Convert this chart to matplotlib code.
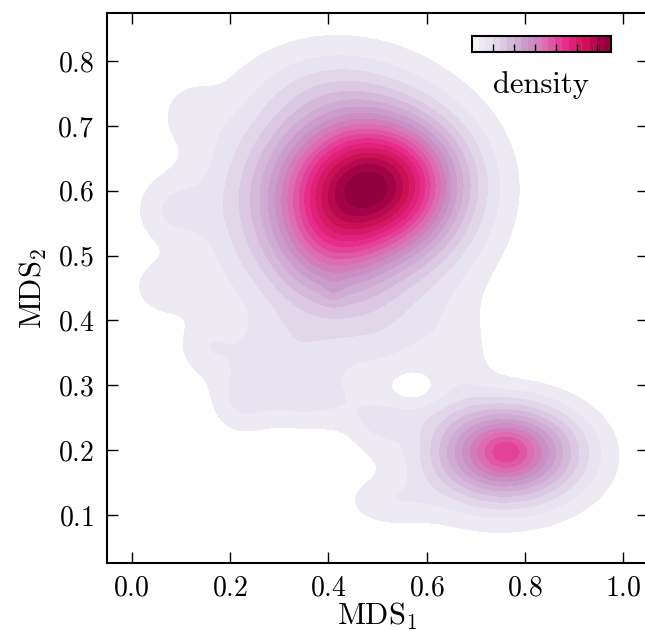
import numpy as np
import matplotlib
matplotlib.use("Agg")
import matplotlib.pyplot as plt
from matplotlib.colors import Normalize

plt.rcParams["font.family"] = "serif"
plt.rcParams["font.serif"] = ["cmr10"]
plt.rcParams["mathtext.fontset"] = "cm"
plt.rcParams["axes.formatter.use_mathtext"] = True

# density blobs: centre, spread, height (in contour steps)
#   big core, lower-left, broad, upper, lobes x4, tail x3, bump,
#   bridges x4, hole, small main, small core, small envelope, small tail
blob_x = [0.505, 0.40, 0.42, 0.40, 0.12, 0.08, 0.07, 0.15, 0.30, 0.22, 0.38, 0.41,
          0.52, 0.66, 0.55, 0.50, 0.578,
          0.762, 0.762, 0.72, 0.52]
blob_y = [0.612, 0.52, 0.58, 0.76, 0.72, 0.57, 0.45, 0.36, 0.33, 0.27, 0.27, 0.445,
          0.37, 0.34, 0.25, 0.23, 0.296,
          0.198, 0.198, 0.15, 0.12]
blob_sx = [0.11, 0.07, 0.16, 0.10, 0.04, 0.05, 0.05, 0.04, 0.09, 0.04, 0.10, 0.015,
           0.07, 0.05, 0.06, 0.04, 0.04,
           0.10, 0.03, 0.17, 0.06]
blob_sy = [0.07, 0.07, 0.12, 0.045, 0.03, 0.035, 0.03, 0.03, 0.05, 0.035, 0.03, 0.015,
           0.05, 0.06, 0.02, 0.03, 0.02,
           0.05, 0.02, 0.07, 0.025]
blob_h = [13, 3, 8, 1.0, 1.2, 1.5, 1.5, 1.2, 2.0, 1.2, 1.3, 0.8,
          1.0, 1.2, 0.8, 1.0, -0.8,
          11, 1.5, 1.0, 1.3]

peak_density = 13.3
n_levels = 20
cbar_ticks = [2, 4, 6, 8, 10, 12]

xlim = (-0.05, 1.05)
ylim = (0.026, 0.874)

xx = np.linspace(xlim[0], xlim[1], 100)
yy = np.linspace(ylim[0], ylim[1], 100)
X, Y = np.meshgrid(xx, yy)
Z = np.zeros_like(X)
for cx, cy, sx, sy, h in zip(blob_x, blob_y, blob_sx, blob_sy, blob_h):
    Z += h * np.exp(-0.5 * (((X - cx) / sx) ** 2 + ((Y - cy) / sy) ** 2))
Z *= peak_density / Z.max()

levels = np.linspace(0, peak_density, n_levels + 1)
mids = 0.5 * (levels[:-1] + levels[1:])
cmap = plt.get_cmap("PuRd")
norm = Normalize(vmin=0.0, vmax=14.5)

fig = plt.figure(figsize=(6.45, 6.31), dpi=100)
ax = fig.add_axes([107 / 645, 1 - 563 / 631, 541 / 645, 550 / 631])

# lowest band left blank, like shade_lowest=False
ax.contourf(X, Y, Z, levels=levels[1:], cmap=cmap, norm=norm)

ax.set_xlim(xlim)
ax.set_ylim(ylim)
ax.set_xticks([0.0, 0.2, 0.4, 0.6, 0.8, 1.0])
ax.set_yticks([0.1, 0.2, 0.3, 0.4, 0.5, 0.6, 0.7, 0.8])
ax.tick_params(direction="in", length=8, width=1, top=True, right=True,
               labelsize=20, pad=9)
for sp in ax.spines.values():
    sp.set_linewidth(1.5)
ax.set_xlabel(r"$\mathrm{MDS}_1$", fontsize=22, labelpad=-1)
ax.set_ylabel(r"$\mathrm{MDS}_2$", fontsize=22, labelpad=6)

# small colour bar in the corner
cax = fig.add_axes([472 / 645, 1 - 52 / 631, 139 / 645, 16 / 631])
cax.pcolormesh(levels, [0, 1], mids[None, :], cmap=cmap, norm=norm)
cax.set_xlim(levels[0], levels[-1])
cax.set_ylim(0, 1)
cax.set_xticks(cbar_ticks)
cax.set_yticks([])
cax.tick_params(direction="in", length=6, width=1, labelbottom=False)
for sp in cax.spines.values():
    sp.set_linewidth(1.5)
fig.text(541 / 645, 1 - 85 / 631, "density", fontsize=22,
         ha="center", va="center")

fig.savefig("out.png", dpi=100)
